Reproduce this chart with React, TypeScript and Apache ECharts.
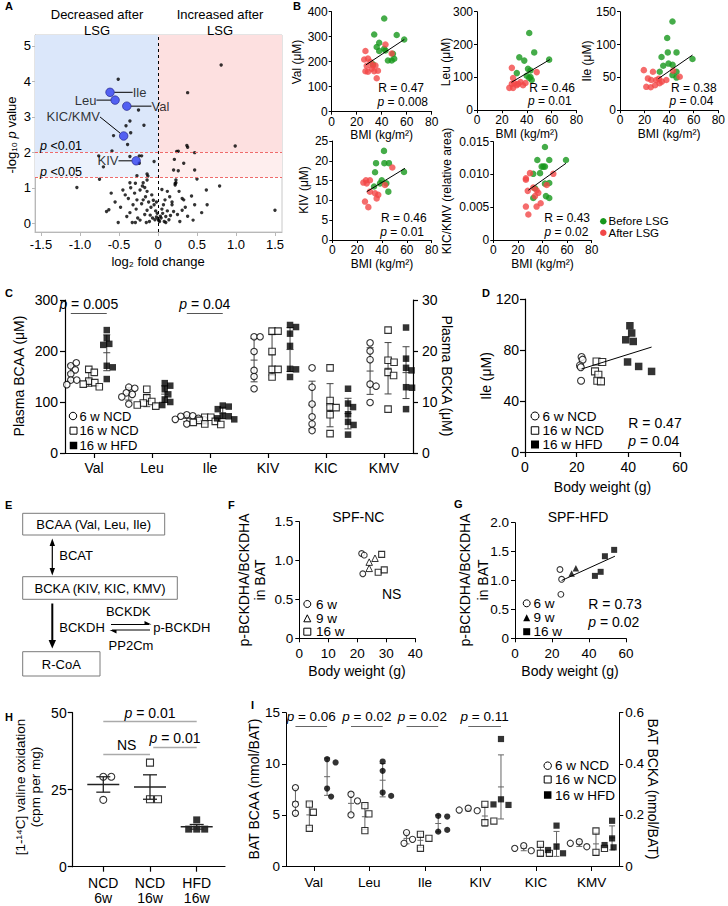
import React, { useEffect, useRef } from "react";
import * as echarts from "echarts";

const FONT = "'Liberation Sans', Arial, Helvetica, sans-serif";
const PAGE_W = 728;
const PAGE_H = 906;

/* ================= A: volcano ================= */
const volcanoNamed = [
  { name: "Ile", fc: -0.615, logp: 3.69 },
  { name: "Leu", fc: -0.55, logp: 3.47 },
  { name: "Val", fc: -0.4, logp: 3.3 },
  { name: "KIC/KMV", fc: -0.44, logp: 2.46 },
  { name: "KIV", fc: -0.28, logp: 1.76 },
];
const volcanoOther = [
  [-0.51, 4.06], [-0.25, 3.19], [-0.36, 2.88], [-0.41, 2.75], [-0.18, 2.76], [-0.57, 2.47], [-0.35, 2.55], [-0.39, 2.22], [-0.59, 2.04],
  [0.38, 3.68], [0.81, 4.46], [0.99, 2.18],
  [-0.76, 1.9], [-0.7, 1.59], [-0.36, 1.88], [-0.24, 1.9], [-0.21, 1.9], [-0.24, 1.69], [-0.05, 1.74], [-0.27, 1.34], [-0.14, 1.39],
  [-0.75, 1.24], [-0.36, 1.14], [-0.14, 1.22], [-0.19, 1.14], [-0.13, 1.33], [-0.29, 1.13], [-0.17, 1.01],
  [0.24, 2.02], [0.26, 2.03], [0.37, 2.19], [0.38, 2.14], [0.47, 1.99], [0.21, 1.8], [0.33, 1.69], [0.2, 1.5], [0.26, 1.48], [0.47, 1.5], [0.23, 1.22], [0.23, 1.14], [0.5, 1.25],
  [-1.04, 1.01], [0.79, 1.05], [1.5, 0.37],
  [-0.66, 0.33], [-0.63, 0.38], [-0.51, 0.02], [-0.45, 0.94], [-0.42, 0.8], [-0.4, 0.19], [-0.33, 0.02], [-0.29, 0.02], [-0.32, 0.52], [-0.27, 0.66], [-0.23, 0.09], [-0.23, 0.94], [-0.14, 0.9], [-0.19, 0.66], [-0.14, 0.37], [-0.1, 0.23], [-0.08, 0.8],
  [-0.05, 0.52], [-0.03, 0.35], [-0.02, 0.18], [0, 0.12], [0.02, 0.05], [0.03, 0.2], [-0.01, 0.28], [0.01, 0.08], [-0.04, 0.1], [0.04, 0.15],
  [0.07, 0.52], [0.09, 0.66], [0.1, 0.19], [0.18, 0.52], [0.2, 0.33], [0.22, 1.08], [0.22, 1.12], [0.31, 0.7], [0.33, 0.66], [0.31, 0.37], [0.43, 0.77], [0.45, 0.09], [0.47, 0.52], [0.62, 0.94], [0.63, 0.52],
  [-0.55, 0.6], [-0.48, 0.45], [-0.38, 0.7], [-0.36, 0.3], [-0.3, 0.85], [-0.28, 0.4], [-0.26, 0.15], [-0.21, 0.55], [-0.17, 0.25], [-0.16, 0.75], [-0.12, 0.6], [-0.11, 0.05], [-0.09, 0.45], [-0.07, 0.15], [-0.06, 0.65],
  [0.05, 0.4], [0.06, 0.28], [0.08, 0.05], [0.12, 0.35], [0.14, 0.1], [0.15, 0.75], [0.16, 0.22], [0.25, 0.25], [0.27, 0.9], [0.28, 0.05], [0.35, 0.45], [0.38, 0.2], [0.12, 0.9], [-0.2, 1.05], [-0.35, 1.0], [-0.6, 0.85], [0.05, 0.95], [0.18, 0.6], [-0.02, 0.6], [0.1, 0.02], [-0.15, 0.02], [0.56, 0.3],
];
const volcanoXTicks = [-1.5, -1, -0.5, 0, 0.5, 1, 1.5];
const volcanoYTicks = [0, 1, 2, 3, 4, 5];
const pCutoffs = [2, 1.3];
const pCutoffLabels = ["{i|p} <0.01", "{i|p} <0.05"];

/* ================= B: BMI correlations ================= */
const valBefore = [[42, 373], [34, 309], [52, 307], [38, 276], [36, 259], [42, 252], [43, 245], [58, 289], [38, 243], [49, 232], [50, 212], [48, 205], [45, 205], [33, 190]];
const valAfter = [[27, 243], [26, 209], [29, 213], [28, 184], [27, 162], [29, 160], [33, 185], [35, 185], [34, 162], [37, 164], [36, 134], [43, 269], [48, 233], [32, 172], [31, 200]];
const valFit = [[27.3, 187], [58.1, 289]];
const leuBefore = [[42, 235], [46, 176], [34, 161], [38, 151], [58, 154], [41, 126], [43, 121], [32, 113], [40, 105], [43, 101], [44, 92], [42, 98]];
const leuAfter = [[28, 129], [48, 116], [29, 98], [28, 80], [29, 68], [26, 68], [33, 80], [35, 86], [37, 76], [39, 83], [32, 76], [30, 83]];
const leuFit = [[27.7, 85], [58.5, 154]];
const ileBefore = [[42.7, 135], [38.4, 110], [38.9, 88], [46, 88], [33.8, 81], [59, 78], [35.2, 67.6], [39.5, 71], [42.8, 69], [32.3, 58.6], [46, 58.6], [42.7, 53.5], [46, 49.7]];
const ileAfter = [[19.4, 61], [21.4, 35.6], [22.7, 48.4], [25.4, 46], [26.8, 58.5], [29.5, 46], [31.7, 48], [32.2, 41], [34.1, 43.6], [37.7, 46], [43.2, 60], [48.6, 51], [25, 35], [28.5, 38]];
const ileFit = [[31.2, 48], [59, 84]];
const kivBefore = [[41.6, 22.5], [35.2, 19.4], [41.9, 19.4], [45.6, 19.4], [34.4, 17.1], [57.7, 17.2], [39.8, 15.1], [33.6, 13.5], [38.4, 14.3], [45.1, 12.2], [43.5, 14.3]];
const kivAfter = [[27.1, 15.1], [30.3, 15.1], [48.3, 18.3], [25, 14.5], [27.7, 14.3], [30.3, 12.2], [34.4, 11.8], [37, 11.4], [35.7, 10.5], [26.3, 9.7], [29, 8.3], [42.4, 13.9]];
const kivFit = [[27.7, 12.2], [58.5, 18.1]];
const kicBefore = [[42, 0.0142], [35.8, 0.0122], [45.5, 0.0122], [59.1, 0.0122], [32.5, 0.0101], [38, 0.0102], [40.7, 0.0112], [39.3, 0.0112], [42, 0.0112], [33.9, 0.0079], [42, 0.0086], [45.5, 0.0087], [32.5, 0.0064], [42.8, 0.0067], [45.5, 0.0064]];
const kicAfter = [[29.8, 0.0102], [48.8, 0.0101], [26.5, 0.0094], [26.5, 0.0092], [28, 0.0075], [32.5, 0.008], [35.2, 0.0076], [36.6, 0.0072], [33.9, 0.0067], [43.4, 0.0084], [26.5, 0.0051], [35.2, 0.0051], [38.5, 0.0056], [28.5, 0.0039]];
const kicFit = [[28.5, 0.0076], [59.1, 0.0117]];
const bR = ["0.47", "0.46", "0.38", "0.46", "0.43"];
const bP = ["0.008", "0.01", "0.04", "0.01", "0.02"];
const bYNames = ["Val (μM)", "Leu (μM)", "Ile (μM)", "KIV (μM)", "KIC/KMV (relative area)"];
const bYMax = [400, 300, 150, 25, 0.015];
const bYInterval = [100, 100, 50, 5, 0.005];

/* ================= C: plasma BCAA / BCKA ================= */
const cCategories = ["Val", "Leu", "Ile", "KIV", "KIC", "KMV"];
const cNCD6 = [
  [171, 177, 171, 163, 155, 143, 143, 134],
  [129, 127, 118, 115, 110, 96],
  [75, 73, 72, 68, 66, 65, 57],
  [22.8, 22.8, 19.9, 16.2, 15.0, 12.6],
  [16.7, 12.9, 9.6, 7.1, 5.7, 4.4],
  [21.6, 20.0, 18.3, 13.5, 13.1, 9.9],
];
const cNCD16 = [
  [164, 158, 141, 138, 135, 130],
  [125, 108, 101, 98, 94, 92],
  [70, 70, 64, 62, 60, 57, 56],
  [23.9, 23.9, 19.9, 16.4, 16.4, 14.9],
  [16.7, 10.3, 9.0, 8.9, 7.5, 3.8],
  [24.1, 18.2, 17.8, 15.8, 15.2, 8.6],
];
const cHFD16 = [
  [241, 225, 214, 212, 171, 168, 145],
  [137, 132, 125, 115, 105, 100, 94],
  [93, 91, 86, 73, 72, 68, 66],
  [25.1, 24.7, 23.4, 21.0, 16.5, 16.4, 14.9],
  [12.6, 9.7, 9.0, 7.6, 6.1, 5.5, 3.6],
  [24.6, 18.5, 16.7, 16.2, 12.9, 12.8, 8.6],
];
const cPValues = ["0.005", "0.04"];
const cPCats = [0, 2];
const cPLevel = 275;

/* ================= D: Ile vs body weight ================= */
const dNCD6 = [[21.9, 74.5], [22.3, 72.4], [21.3, 67.9], [21.6, 66.5], [21.7, 55.9]];
const dNCD16 = [[27.7, 71], [29.9, 70.6], [27.1, 63.2], [28.4, 60.6], [28, 55.9], [29.4, 55.4]];
const dHFD16 = [[40.6, 99], [41.3, 93.3], [39, 88], [41.9, 86.7], [39.7, 70.6], [44, 67.1], [49, 63.2]];
const dFit = [[21.9, 65.1], [49, 82.3]];

/* ================= F / G: p-BCKDHA ================= */
const fW6 = [[21.5, 1.09], [22.4, 1.07], [21.9, 0.83]];
const fW9 = [[24.1, 0.98], [26.1, 1.03], [24.1, 0.9]];
const fW16 = [[28.4, 1.08], [27.2, 0.85], [29.3, 0.88]];
const gW6 = [[24.3, 1.19], [25.2, 1.02], [24.8, 0.76]];
const gW9 = [[30.6, 1.12], [32.9, 1.21]];
const gW16 = [[43.2, 1.08], [46.3, 1.15], [48.6, 1.42], [53.6, 1.53]];
const gFit = [[25.2, 1.0], [54, 1.42]];

/* ================= H: valine oxidation ================= */
const hCategories = ["NCD\n6w", "NCD\n16w", "HFD\n16w"];
const hGroups = [
  [29.2, 29.2, 21.7],
  [33.8, 21.9, 21.9],
  [15.2, 12.2, 12.2, 12.2],
];
const hSig = [
  { from: 0, to: 2, y: 47.1, text: "{i|p} = 0.01" },
  { from: 0, to: 1, y: 36.6, text: "NS" },
  { from: 1.07, to: 2, y: 38.8, text: "{i|p} = 0.01" },
];

/* ================= I: BAT BCAA / BCKA ================= */
const iNCD6 = [
  [7.67, 6.05, 5.16],
  [7.02, 6.37, 5.0],
  [3.27, 2.61, 2.22],
  [0.226, 0.2165, 0.219],
  [0.0795, 0.06, 0.069],
  [0.095, 0.0755, 0.0888],
];
const iNCD16 = [
  [6.05, 5.26, 3.69],
  [5.91, 5.1, 3.46],
  [3.1, 2.71, 1.73],
  [0.2415, 0.1695, 0.176],
  [0.085, 0.0497, 0.0497],
  [0.137, 0.0536, 0.069],
];
const iHFD16 = [
  [10.45, 10.13, 7.58, 6.79],
  [10.22, 9.31, 7.19, 6.86],
  [4.9, 4.84, 3.36, 3.53],
  [0.497, 0.261, 0.239, 0.241],
  [0.158, 0.0755, 0.0497, 0.0626],
  [0.177, 0.108, 0.073, 0.082],
];
const iPValues = ["0.06", "0.02", "0.02", "0.11"];
const iPCats = [0, 1, 2, 3];
const iPLevel = 13.7;

/* ================= helpers ================= */
const mean = (a: number[]) => a.reduce((s, v) => s + v, 0) / a.length;
const sd = (a: number[]) => {
  const m = mean(a);
  return Math.sqrt(a.reduce((s, v) => s + (v - m) * (v - m), 0) / (a.length - 1));
};
const sem = (a: number[]) => sd(a) / Math.sqrt(a.length);

// beeswarm-style horizontal spread (in px) for a column of values
function swarm(vals: number[], pxPerY: number, d: number): number[] {
  const placed: { x: number; y: number }[] = [];
  return vals.map((v) => {
    const y = v * pxPerY;
    let best = 0;
    for (let k = 0; k < 400; k++) {
      const cand = (k % 2 === 1 ? 1 : -1) * Math.ceil(k / 2) * 0.5;
      if (placed.every((p) => (p.x - cand) ** 2 + (p.y - y) ** 2 >= d * d)) {
        best = cand;
        break;
      }
    }
    placed.push({ x: best, y });
    return best;
  });
}

const OPEN_CIRCLE = { symbol: "circle", itemStyle: { color: "#fff", borderColor: "#000", borderWidth: 1.1 } };
const OPEN_SQUARE = { symbol: "rect", itemStyle: { color: "#fff", borderColor: "#000", borderWidth: 1.1 } };
const FILLED_SQUARE = { symbol: "rect", itemStyle: { color: "#000", borderColor: "#000", borderWidth: 0 } };
const FILLED_CIRCLE = { symbol: "circle", itemStyle: { color: "#000", borderColor: "#000", borderWidth: 0 } };
const OPEN_TRI = { symbol: "triangle", itemStyle: { color: "#fff", borderColor: "#000", borderWidth: 1 } };
const FILLED_TRI = { symbol: "triangle", itemStyle: { color: "#000", borderColor: "#000", borderWidth: 0 } };
const GREEN = "#17971c";
const RED = "#f24747";

function buildOption() {
  const grid: any[] = [];
  const xAxis: any[] = [];
  const yAxis: any[] = [];
  const series: any[] = [];
  const graphic: any[] = [];

  const rich = (fs: number) => ({ i: { fontStyle: "italic", fontSize: fs, fontFamily: FONT, fill: "#000", color: "#000" } });
  const T = (x: number, y: number, text: string, fs = 12, o: any = {}) => {
    graphic.push({
      type: "text",
      x,
      y,
      rotation: o.rot ?? 0,
      silent: true,
      z: 10,
      style: {
        text,
        fontFamily: FONT,
        fontSize: fs,
        fontWeight: o.bold ? "bold" : "normal",
        fill: "#000",
        align: o.align ?? "center",
        textAlign: o.align ?? "center",
        verticalAlign: "middle",
        textVerticalAlign: "middle",
        lineHeight: o.lh,
        rich: rich(fs),
      },
    });
  };
  const box = (x: number, y: number, w: number, h: number) =>
    graphic.push({ type: "rect", shape: { x, y, width: w, height: h }, style: { fill: "#fff", stroke: "#7a7a7a", lineWidth: 1 }, silent: true });
  const seg = (x1: number, y1: number, x2: number, y2: number, lw = 1.2, color = "#000") =>
    graphic.push({ type: "line", shape: { x1, y1, x2, y2 }, style: { stroke: color, lineWidth: lw }, silent: true });
  const poly = (pts: number[][], fill = "#000") =>
    graphic.push({ type: "polygon", shape: { points: pts }, style: { fill }, silent: true });
  const legendSym = (kind: string, cx: number, cy: number, s: number, fill: string) => {
    if (kind === "circle") graphic.push({ type: "circle", shape: { cx, cy, r: s / 2 }, style: { fill, stroke: fill === "#000" ? "none" : "#000", lineWidth: 1 }, silent: true });
    else if (kind === "dot") graphic.push({ type: "circle", shape: { cx, cy, r: s / 2 }, style: { fill }, silent: true });
    else if (kind === "rect") graphic.push({ type: "rect", shape: { x: cx - s / 2, y: cy - s / 2, width: s, height: s }, style: { fill, stroke: fill === "#000" ? "none" : "#000", lineWidth: 1 }, silent: true });
    else if (kind === "tri") graphic.push({ type: "polygon", shape: { points: [[cx, cy - s / 2], [cx - s / 2, cy + s / 2], [cx + s / 2, cy + s / 2]] }, style: { fill, stroke: fill === "#000" ? "none" : "#000", lineWidth: 1 }, silent: true });
  };

  const addGrid = (left: number, top: number, width: number, height: number, extra: any = {}) => {
    grid.push({ left, top, width, height, containLabel: false, outerBoundsMode: "none", ...extra });
    return grid.length - 1;
  };
  const mkAxis = (o: any) => {
    const color = o.color ?? "#000";
    const lw = o.lw ?? 1;
    const a: any = {
      type: "value",
      gridIndex: o.grid,
      min: o.min,
      max: o.max,
      position: o.position,
      axisLine: { show: true, onZero: false, lineStyle: { color, width: lw } },
      axisTick: { show: true, inside: false, length: o.tick ?? 4, lineStyle: { color, width: lw } },
      axisLabel: { show: true, margin: o.margin ?? 5, color: "#000", fontFamily: FONT, fontSize: o.fs ?? 12 },
      splitLine: { show: false },
    };
    if (o.interval != null) a.interval = o.interval;
    if (o.ticks) {
      a.axisTick.customValues = o.ticks;
      a.axisLabel.customValues = o.ticks;
    }
    if (o.fmt) a.axisLabel.formatter = o.fmt;
    if (o.lh) a.axisLabel.lineHeight = o.lh;
    return a;
  };
  const addX = (o: any) => {
    xAxis.push(mkAxis({ position: "bottom", ...o }));
    return xAxis.length - 1;
  };
  const addY = (o: any) => {
    yAxis.push(mkAxis({ position: "left", ...o }));
    return yAxis.length - 1;
  };
  const scatter = (xi: number, yi: number, data: any[], sym: any, size: number, extra: any = {}) =>
    series.push({ type: "scatter", xAxisIndex: xi, yAxisIndex: yi, data, symbol: sym.symbol, symbolSize: size, itemStyle: sym.itemStyle, z: 3, silent: true, ...extra });
  const fitLine = (xi: number, yi: number, data: number[][]) =>
    series.push({ type: "line", xAxisIndex: xi, yAxisIndex: yi, data, symbol: "none", showSymbol: false, lineStyle: { color: "#000", width: 1 }, z: 4, silent: true });
  const errorBars = (xi: number, yi: number, data: number[][], capW: number, meanW: number, color: string, lw: number, meanLw = lw, z = 2) =>
    series.push({
      type: "custom",
      xAxisIndex: xi,
      yAxisIndex: yi,
      z,
      silent: true,
      clip: false,
      encode: { x: 0, y: [1, 2, 3] },
      data,
      renderItem: (params: any, api: any) => {
        const x = api.value(0);
        const m = api.coord([x, api.value(1)]);
        const lo = api.coord([x, api.value(2)]);
        const hi = api.coord([x, api.value(3)]);
        const st = { stroke: color, lineWidth: lw, fill: "none" };
        const ln = (x1: number, y1: number, x2: number, y2: number, s: any = st) => ({ type: "line", shape: { x1, y1, x2, y2 }, style: s });
        return {
          type: "group",
          children: [
            ln(lo[0], lo[1], hi[0], hi[1]),
            ln(lo[0] - capW / 2, lo[1], lo[0] + capW / 2, lo[1]),
            ln(hi[0] - capW / 2, hi[1], hi[0] + capW / 2, hi[1]),
            ln(m[0] - meanW / 2, m[1], m[0] + meanW / 2, m[1], { ...st, lineWidth: meanLw }),
          ],
        };
      },
    });
  const sigLines = (items: { x0: number; x1: number; y: number; text: string }[], color: string, fs: number, lw = 1) => ({
    silent: true,
    symbol: ["none", "none"],
    animation: false,
    lineStyle: { color, width: lw, type: "solid" },
    label: { show: true, position: "middle", distance: 2, fontFamily: FONT, fontSize: fs, color: "#000", rich: rich(fs) },
    emphasis: { disabled: true },
    data: items.map((it) => [
      { coord: [it.x0, it.y], label: { formatter: it.text } },
      { coord: [it.x1, it.y] },
    ]),
  });

  /* ---------- panel letters ---------- */
  const letters: [string, number, number][] = [
    ["A", 5, 6], ["B", 293, 6], ["C", 5, 293], ["D", 482, 293], ["E", 5, 505], ["F", 228, 505], ["G", 454, 504], ["H", 5, 717], ["I", 251, 705],
  ];
  letters.forEach(([t, x, y]) => T(x, y, t, 11, { align: "left", bold: true }));

  /* ---------- A ---------- */
  {
    const AX = [-1.577, 1.59];
    const AY = [-0.245, 5.304];
    const g = addGrid(35, 35, 247, 197, { show: true, borderColor: "#c8c8c8", borderWidth: 1, backgroundColor: "transparent" });
    const xi = addX({ grid: g, min: AX[0], max: AX[1], ticks: volcanoXTicks, color: "#b8b8b8", tick: 4, margin: 6, fs: 13, fmt: (v: number) => (v === 0 ? "0" : v.toFixed(1)) });
    const yi = addY({ grid: g, min: AY[0], max: AY[1], ticks: volcanoYTicks, color: "#b8b8b8", tick: 3, margin: 4, fs: 13 });
    series.push({
      type: "scatter",
      xAxisIndex: xi,
      yAxisIndex: yi,
      data: volcanoOther,
      symbolSize: 3.4,
      itemStyle: { color: "#000" },
      z: 3,
      silent: true,
      markArea: {
        silent: true,
        data: [
          [{ xAxis: AX[0], yAxis: pCutoffs[0], itemStyle: { color: "#dbe7fa" } }, { xAxis: 0, yAxis: AY[1] }],
          [{ xAxis: AX[0], yAxis: pCutoffs[1], itemStyle: { color: "#ecf2fc" } }, { xAxis: 0, yAxis: pCutoffs[0] }],
          [{ xAxis: 0, yAxis: pCutoffs[0], itemStyle: { color: "#fde0e0" } }, { xAxis: AX[1], yAxis: AY[1] }],
          [{ xAxis: 0, yAxis: pCutoffs[1], itemStyle: { color: "#feeeee" } }, { xAxis: AX[1], yAxis: pCutoffs[0] }],
        ],
      },
      markLine: {
        silent: true,
        symbol: ["none", "none"],
        label: { show: false },
        emphasis: { disabled: true },
        data: [
          { xAxis: 0, lineStyle: { color: "#000", type: [3, 3], width: 1 } },
          { yAxis: pCutoffs[0], lineStyle: { color: "#ef6b6b", type: [3, 2], width: 1 } },
          { yAxis: pCutoffs[1], lineStyle: { color: "#ef6b6b", type: [3, 2], width: 1 } },
        ],
      },
    });
    const namedLabel: any = {
      Ile: { position: "right", dx: 13, dy: 0 },
      Leu: { position: "left", dx: -9, dy: 0 },
      Val: { position: "right", dx: 15, dy: 0 },
      "KIC/KMV": { position: "left", dx: -14, dy: -19 },
      KIV: { position: "left", dx: -8, dy: 0 },
    };
    series.push({
      type: "scatter",
      xAxisIndex: xi,
      yAxisIndex: yi,
      symbolSize: 8.5,
      itemStyle: { color: "#2f3ff0", borderColor: "#1c1c80", borderWidth: 0.8 },
      z: 4,
      silent: true,
      data: volcanoNamed.map((d) => ({ name: d.name, value: [d.fc, d.logp], label: { position: namedLabel[d.name].position } })),
      label: { show: true, formatter: "{b}", fontFamily: FONT, fontSize: 13, color: "#000", distance: 5 },
      labelLine: { show: true, lineStyle: { color: "#000", width: 1 } },
      labelLayout: (p: any) => {
        const s = namedLabel[volcanoNamed[p.dataIndex].name];
        return { dx: s.dx, dy: s.dy };
      },
    });
    T(97, 14, "Decreased after", 13);
    T(97, 30, "LSG", 13);
    T(220, 14, "Increased after", 13);
    T(220, 30, "LSG", 13);
    T(11, 135, "-log₁₀ {i|p} value", 13, { rot: Math.PI / 2 });
    T(158, 261, "log₂ fold change", 13);
    T(40, 146, pCutoffLabels[0], 12.5, { align: "left" });
    T(40, 172, pCutoffLabels[1], 12.5, { align: "left" });
  }

  /* ---------- B ---------- */
  {
    const rects = [
      [331.7, 11.7, 100, 100],
      [477, 11.7, 99.5, 98.5],
      [620, 11.7, 98.3, 98.5],
      [332.3, 141, 99.4, 99],
      [493.3, 141.7, 98.4, 98.3],
    ];
    const sets = [
      [valBefore, valAfter, valFit],
      [leuBefore, leuAfter, leuFit],
      [ileBefore, ileAfter, ileFit],
      [kivBefore, kivAfter, kivFit],
      [kicBefore, kicAfter, kicFit],
    ];
    const yNamePos = [[297, 62], [446, 62], [587, 61], [304, 190], [447, 191]];
    const rpPos = [[424, 88, 428, 101.7], [575, 88, 571.7, 100.7], [716.7, 88, 713.3, 100.7], [426.7, 217.7, 424, 231.7], [590, 217.7, 588.3, 231.7]];
    rects.forEach((r, k) => {
      const g = addGrid(r[0], r[1], r[2], r[3]);
      const xi = addX({ grid: g, min: 0, max: 80, interval: 20, tick: 3, margin: 4, fs: 12 });
      const yi = addY({
        grid: g, min: 0, max: bYMax[k], interval: bYInterval[k], tick: 3, margin: 4, fs: 12,
        fmt: k === 4 ? (v: number) => (v === 0 ? "0" : v.toFixed(3)) : undefined,
      });
      scatter(xi, yi, sets[k][0], { symbol: "circle", itemStyle: { color: GREEN } }, 6.5);
      scatter(xi, yi, sets[k][1], { symbol: "circle", itemStyle: { color: RED } }, 6.5);
      fitLine(xi, yi, sets[k][2]);
      T(yNamePos[k][0], yNamePos[k][1], bYNames[k], 12, { rot: Math.PI / 2 });
      T(r[0] + r[2] / 2, r[1] + r[3] + 23.5, "BMI (kg/m²)", 12);
      T(rpPos[k][0], rpPos[k][1], "R = " + bR[k], 12, { align: "right", lh: 12 });
      T(rpPos[k][2], rpPos[k][3], "{i|p} = " + bP[k], 12, { align: "right", lh: 12 });
    });
    legendSym("dot", 603.3, 221.2, 6.5, GREEN);
    T(608.5, 221.2, "Before LSG", 11.5, { align: "left", lh: 10.5 });
    legendSym("dot", 603.3, 232.8, 6.5, RED);
    T(608.5, 232.8, "After LSG", 11.5, { align: "left", lh: 10.5 });
  }

  /* ---------- C ---------- */
  {
    const G = { l: 65, t: 300, w: 348, h: 153 };
    const g = addGrid(G.l, G.t, G.w, G.h);
    const catTicks = cCategories.map((_, i) => i + 0.5);
    const xi = addX({ grid: g, min: 0, max: 6, ticks: catTicks, tick: 5, margin: 8, fs: 14, lw: 1.2, fmt: (v: number) => cCategories[Math.round(v - 0.5)] });
    const yl = addY({ grid: g, min: 0, max: 300, interval: 100, tick: 5, margin: 7, fs: 14, lw: 1.2 });
    const yr = addY({ grid: g, min: 0, max: 30, interval: 10, tick: 5, margin: 9, fs: 14, lw: 1.2, position: "right" });
    const pxX = G.w / 6;
    const pxY = [G.h / 300, G.h / 30];
    const offBCAA = [-0.4, -0.09, 0.22];
    const offBCKA = [-0.24, 0.07, 0.38];
    const groups = [cNCD6, cNCD16, cHFD16];
    const syms = [OPEN_CIRCLE, OPEN_SQUARE, FILLED_SQUARE];
    [0, 1].forEach((side) => {
      const bars: number[][] = [];
      groups.forEach((grp, gi) => {
        const data: number[][] = [];
        [0, 1, 2].forEach((j) => {
          const c = side * 3 + j;
          const cx = c + 0.5 + (side === 0 ? offBCAA : offBCKA)[gi];
          const vals = grp[c];
          const jit = swarm(vals, pxY[side], 6);
          vals.forEach((v, i) => data.push([cx + jit[i] / pxX, v]));
          const m = mean(vals);
          const s = sd(vals);
          bars.push([cx, m, m - s, m + s]);
        });
        const extra: any = {};
        if (side === 0 && gi === 0) {
          extra.markLine = sigLines(
            cPCats.map((c, k) => ({ x0: c + 0.5 + offBCAA[0], x1: c + 0.5 + offBCAA[2], y: cPLevel, text: "{i|p} = " + cPValues[k] })),
            "#555", 14
          );
        }
        scatter(xi, side === 0 ? yl : yr, data, syms[gi], 6.5, extra);
      });
      errorBars(xi, side === 0 ? yl : yr, bars, 7, 7, "#444", 1);
    });
    T(19, 376, "Plasma BCAA (μM)", 14, { rot: Math.PI / 2 });
    T(447, 376, "Plasma BCKA (μM)", 14, { rot: -Math.PI / 2 });
    legendSym("circle", 73, 416, 7.5, "#fff");
    T(79.5, 416, "6 w NCD", 13, { align: "left", lh: 13 });
    legendSym("rect", 73.5, 430.7, 7, "#fff");
    T(79.5, 430.7, "16 w NCD", 13, { align: "left", lh: 13 });
    legendSym("rect", 73.5, 445.5, 7.5, "#000");
    T(79.5, 445.5, "16 w HFD", 13, { align: "left", lh: 13 });
  }

  /* ---------- D ---------- */
  {
    const g = addGrid(525, 299, 155, 153);
    const xi = addX({ grid: g, min: 0, max: 60, interval: 20, tick: 5, margin: 8, fs: 14, lw: 1.2 });
    const yi = addY({ grid: g, min: 0, max: 120, interval: 40, tick: 5, margin: 6, fs: 14, lw: 1.2 });
    scatter(xi, yi, dNCD6, OPEN_CIRCLE, 7);
    scatter(xi, yi, dNCD16, OPEN_SQUARE, 7);
    scatter(xi, yi, dHFD16, FILLED_SQUARE, 7.5);
    fitLine(xi, yi, dFit);
    T(486, 376, "Ile (μM)", 14, { rot: Math.PI / 2 });
    T(602.5, 486.7, "Body weight (g)", 14);
    legendSym("circle", 535, 416, 8, "#fff");
    T(542.5, 416, "6 w NCD", 13.5, { align: "left", lh: 13 });
    legendSym("rect", 535, 430.5, 7.5, "#fff");
    T(542.5, 430.5, "16 w NCD", 13.5, { align: "left", lh: 13 });
    legendSym("rect", 535, 444.5, 8, "#000");
    T(542.5, 444.5, "16 w HFD", 13.5, { align: "left", lh: 13 });
    T(681.7, 422.7, "R = 0.47", 14, { align: "right", lh: 14 });
    T(679.3, 440.7, "{i|p} = 0.04", 14, { align: "right", lh: 14 });
  }

  /* ---------- E (pathway diagram) ---------- */
  {
    box(22.7, 513.3, 142, 21.7);
    T(93.7, 524.5, "BCAA (Val, Leu, Ile)", 13);
    seg(52.3, 544, 52.3, 570, 1.2);
    poly([[52.3, 538.5], [49.6, 546], [55, 546]]);
    poly([[52.3, 575.5], [49.6, 568], [55, 568]]);
    T(59.3, 555, "BCAT", 13, { align: "left" });
    box(22.7, 576.7, 154.6, 22.6);
    T(100, 588, "BCKA (KIV, KIC, KMV)", 13);
    seg(52.3, 603.5, 52.3, 641, 2);
    poly([[52.3, 648.5], [48.6, 640], [56, 640]]);
    T(128.3, 611.7, "BCKDK", 13, { lh: 13 });
    T(59.3, 627.7, "BCKDH", 13, { align: "left", lh: 13 });
    seg(111, 624.5, 149, 624.5, 1.2);
    poly([[151.5, 624.5], [144.5, 621], [144.5, 624.5]]);
    seg(112, 630, 150, 630, 1.2);
    poly([[109.5, 630], [116.5, 630], [116.5, 633.5]]);
    T(153.3, 627.7, "p-BCKDH", 13, { align: "left", lh: 13 });
    T(131, 645.5, "PP2Cm", 13, { lh: 13 });
    box(22.7, 651.7, 77.3, 24.3);
    T(61.3, 664, "R-CoA", 13);
  }

  /* ---------- F ---------- */
  {
    const g = addGrid(299.3, 521.7, 116, 116.6);
    const xi = addX({ grid: g, min: 0, max: 40, interval: 10, tick: 4, margin: 8, fs: 13.5 });
    const yi = addY({ grid: g, min: 0, max: 1.5, interval: 0.5, tick: 4, margin: 6, fs: 13.5, fmt: (v: number) => (v === 0 ? "0" : v.toFixed(1)) });
    scatter(xi, yi, fW6, OPEN_CIRCLE, 5.8);
    scatter(xi, yi, fW9, OPEN_TRI, 6.5);
    scatter(xi, yi, fW16, OPEN_SQUARE, 6);
    T(358.3, 516.7, "SPF-NC", 14);
    T(391.7, 594, "NS", 14);
    T(243.5, 580, "p-BCKDHA/BCKDHA", 14, { rot: Math.PI / 2 });
    T(260, 580, "in BAT", 14, { rot: Math.PI / 2 });
    T(357, 670.7, "Body weight (g)", 14);
    legendSym("circle", 307.3, 604, 7, "#fff");
    T(316, 604, "6 w", 13.5, { align: "left", lh: 13 });
    legendSym("tri", 307.3, 618.3, 7, "#fff");
    T(316, 618.3, "9 w", 13.5, { align: "left", lh: 13 });
    legendSym("rect", 307.3, 631.7, 7, "#fff");
    T(316, 631.7, "16 w", 13.5, { align: "left", lh: 13 });
  }

  /* ---------- G ---------- */
  {
    const g = addGrid(515, 522.7, 111, 115.6);
    const xi = addX({ grid: g, min: 0, max: 60, interval: 20, tick: 4, margin: 8, fs: 13.5 });
    const yi = addY({ grid: g, min: 0, max: 2, interval: 0.5, tick: 4, margin: 6, fs: 13.5, fmt: (v: number) => (v === 0 ? "0" : v.toFixed(1)) });
    scatter(xi, yi, gW6, OPEN_CIRCLE, 5.8);
    scatter(xi, yi, gW9, FILLED_TRI, 6.5);
    scatter(xi, yi, gW16, FILLED_SQUARE, 6);
    fitLine(xi, yi, gFit);
    T(578, 516.7, "SPF-HFD", 14);
    T(465, 580, "p-BCKDHA/BCKDHA", 14, { rot: Math.PI / 2 });
    T(483.3, 580, "in BAT", 14, { rot: Math.PI / 2 });
    T(570, 670.7, "Body weight (g)", 14);
    legendSym("circle", 526.7, 603.3, 7, "#fff");
    T(533.5, 603.3, "6 w", 13.5, { align: "left", lh: 13 });
    legendSym("tri", 526.7, 617.7, 7, "#000");
    T(533.5, 617.7, "9 w", 13.5, { align: "left", lh: 13 });
    legendSym("rect", 526.7, 631.7, 7, "#000");
    T(533.5, 631.7, "16 w", 13.5, { align: "left", lh: 13 });
    T(641.7, 604, "R = 0.73", 14, { align: "right", lh: 14 });
    T(639.3, 621.7, "{i|p} = 0.02", 14, { align: "right", lh: 14 });
  }

  /* ---------- H ---------- */
  {
    const G = { l: 72.7, t: 712.7, w: 152.3, h: 154 };
    const XR = [-0.655, 2.606];
    const g = addGrid(G.l, G.t, G.w, G.h);
    const xi = addX({ grid: g, min: XR[0], max: XR[1], ticks: [0, 1, 2], tick: 5, margin: 9, fs: 14, lh: 15, lw: 1.2, fmt: (v: number) => hCategories[Math.round(v)] });
    const yi = addY({ grid: g, min: 0, max: 50, interval: 25, tick: 5, margin: 6, fs: 14, lw: 1.2 });
    const pxX = G.w / (XR[1] - XR[0]);
    const pxY = G.h / 50;
    const syms = [OPEN_CIRCLE, OPEN_SQUARE, FILLED_SQUARE];
    const bars: number[][] = [];
    hGroups.forEach((vals, gi) => {
      const jit = swarm(vals, pxY, 8);
      const data = vals.map((v, i) => [gi + jit[i] / pxX, v]);
      const m = mean(vals);
      const e = sem(vals);
      bars.push([gi, m, m - e, m + e]);
      const extra: any = {};
      if (gi === 0) extra.markLine = sigLines(hSig.map((s) => ({ x0: s.from, x1: s.to, y: s.y, text: s.text })), "#aaa", 14, 1.3);
      scatter(xi, yi, data, syms[gi], 7, extra);
    });
    errorBars(xi, yi, bars, 14, 32, "#222", 1.3, 1.6, 4);
    T(20, 787, "[1-¹⁴C] valine oxidation", 13.5, { rot: Math.PI / 2 });
    T(35.5, 787, "(cpm per mg)", 13.5, { rot: Math.PI / 2 });
  }

  /* ---------- I ---------- */
  {
    const G = { l: 286, t: 712.7, w: 333.3, h: 153.3 };
    const g = addGrid(G.l, G.t, G.w, G.h);
    const catTicks = cCategories.map((_, i) => i + 0.5);
    const xi = addX({ grid: g, min: 0, max: 6, ticks: catTicks, tick: 5, margin: 9, fs: 13.5, fmt: (v: number) => cCategories[Math.round(v - 0.5)] });
    const yl = addY({ grid: g, min: 0, max: 15, interval: 5, tick: 4, margin: 6, fs: 13.5 });
    const yr = addY({ grid: g, min: 0, max: 0.6, interval: 0.2, tick: 4, margin: 6, fs: 13.5, position: "right", fmt: (v: number) => (v === 0 ? "0" : v.toFixed(1)) });
    const pxX = G.w / 6;
    const pxY = [G.h / 15, G.h / 0.6];
    const offBCAA = [-0.33, -0.08, 0.24];
    const offBCKA = [-0.22, 0.08, 0.37];
    const groups = [iNCD6, iNCD16, iHFD16];
    const symsBCAA = [OPEN_CIRCLE, OPEN_SQUARE, FILLED_CIRCLE];
    const symsBCKA = [OPEN_CIRCLE, OPEN_SQUARE, FILLED_SQUARE];
    [0, 1].forEach((side) => {
      const bars: number[][] = [];
      groups.forEach((grp, gi) => {
        const data: number[][] = [];
        [0, 1, 2].forEach((j) => {
          const c = side * 3 + j;
          const cx = c + 0.5 + (side === 0 ? offBCAA : offBCKA)[gi];
          const vals = grp[c];
          const jit = swarm(vals, pxY[side], 9);
          vals.forEach((v, i) => data.push([cx + jit[i] / pxX, v]));
          const m = mean(vals);
          const s = sd(vals);
          bars.push([cx, m, m - s, m + s]);
        });
        const extra: any = {};
        if (side === 0 && gi === 0) {
          extra.markLine = sigLines(
            iPCats.map((c, k) => {
              const off = c < 3 ? offBCAA : offBCKA;
              return { x0: c + 0.5 + off[0], x1: c + 0.5 + off[2], y: iPLevel, text: "{i|p} = " + iPValues[k] };
            }),
            "#666", 13.5
          );
        }
        scatter(xi, side === 0 ? yl : yr, data, (side === 0 ? symsBCAA : symsBCKA)[gi], 6.2, extra);
      });
      errorBars(xi, side === 0 ? yl : yr, bars, 6, 6, "#666", 1);
    });
    T(254, 789, "BAT BCAA (nmol/BAT)", 14, { rot: Math.PI / 2 });
    T(653, 789, "BAT BCKA (nmol/BAT)", 14, { rot: -Math.PI / 2 });
    legendSym("circle", 547.7, 765.7, 7.5, "#fff");
    T(555, 765.7, "6 w NCD", 13.5, { align: "left", lh: 13 });
    legendSym("rect", 547.7, 779.5, 7, "#fff");
    T(555, 779.5, "16 w NCD", 13.5, { align: "left", lh: 13 });
    legendSym("rect", 547.7, 795, 7.5, "#000");
    T(555, 795, "16 w HFD", 13.5, { align: "left", lh: 13 });
  }

  return {
    animation: false,
    backgroundColor: "#fff",
    textStyle: { fontFamily: FONT },
    grid,
    xAxis,
    yAxis,
    series,
    graphic: { elements: graphic },
  };
}

export default function App() {
  const ref = useRef<HTMLDivElement>(null);
  useEffect(() => {
    document.body.style.margin = "0";
    const chart = echarts.init(ref.current as HTMLDivElement, null, { renderer: "svg", width: PAGE_W, height: PAGE_H });
    chart.setOption(buildOption() as any);
    return () => chart.dispose();
  }, []);
  return <div ref={ref} style={{ position: "absolute", left: 0, top: 0, width: PAGE_W, height: PAGE_H, background: "#fff" }} />;
}
